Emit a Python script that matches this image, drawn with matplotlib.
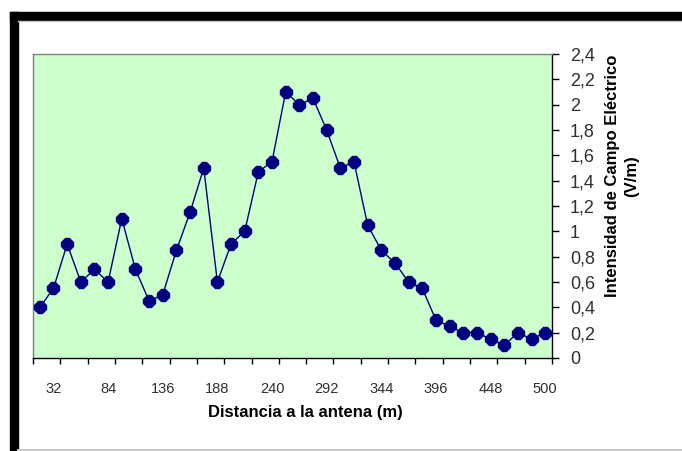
import numpy as np
import matplotlib.pyplot as plt
from matplotlib.patches import Rectangle
from matplotlib.lines import Line2D

# distances along the measurement route (m), one per point
distancia = [19, 32, 45, 58, 71, 84, 97, 110, 123, 136, 149, 162, 175,
             188, 201, 214, 227, 240, 253, 266, 279, 292, 305, 318, 331,
             344, 357, 370, 383, 396, 409, 422, 435, 448, 461, 474, 487, 500]

# electric field strength (V/m)
campo = [0.4, 0.55, 0.9, 0.6, 0.7, 0.6, 1.1, 0.7, 0.45, 0.5,
         0.85, 1.15, 1.5, 0.6, 0.9, 1.0, 1.47, 1.55, 2.1, 2.0,
         2.05, 1.8, 1.5, 1.55, 1.05, 0.85, 0.75, 0.6, 0.55, 0.3,
         0.25, 0.2, 0.2, 0.15, 0.1, 0.2, 0.15, 0.2]

y_ticks = [0, 0.2, 0.4, 0.6, 0.8, 1.0, 1.2, 1.4, 1.6, 1.8, 2.0, 2.2, 2.4]

plt.rcParams['font.family'] = ['Liberation Sans', 'DejaVu Sans']

W, H = 682, 451
fig = plt.figure(figsize=(W / 100, H / 100), dpi=100)
fig.patch.set_facecolor('white')

# black frame on top and left, thin grey lines
fig.patches.append(Rectangle((10 / W, 1 - 20 / H), 1 - 10 / W, 8 / H,
                             transform=fig.transFigure, color='black', zorder=0))
fig.patches.append(Rectangle((10 / W, 0), 8 / W, 1 - 12 / H,
                             transform=fig.transFigure, color='black', zorder=0))
fig.lines.append(Line2D([18 / W, 1], [1 - 21 / H, 1 - 21 / H], transform=fig.transFigure,
                        color='#c8c8c8', lw=1))
fig.lines.append(Line2D([18 / W, 1], [1 - 449.5 / H, 1 - 449.5 / H], transform=fig.transFigure,
                        color='#c8c8c8', lw=1.5))

ax = fig.add_axes([33 / W, 1 - 358 / H, (552 - 33) / W, (358 - 54) / H])
ax.set_facecolor('#ccffcc')

x = np.arange(len(campo))
ax.plot(x, campo, color='#000080', lw=1, marker='8', markersize=9,
        markerfacecolor='#000080', markeredgecolor='#000080', zorder=3)

ax.set_xlim(-0.5, len(campo) - 0.5)
ax.set_ylim(0, 2.4)

# x axis: tick marks between every second category, labels every fourth
ax.set_xticks(np.arange(-0.5, len(campo), 2), minor=True)
ax.set_xticks(x[1::4])
ax.set_xticklabels([str(d) for d in distancia[1::4]], fontsize=10.5, color='#303030')
ax.tick_params(axis='x', which='major', length=0, pad=17)
ax.tick_params(axis='x', which='minor', length=4, width=1, color='black', direction='out')

ax.yaxis.tick_right()
ax.set_yticks(y_ticks)
ax.set_yticklabels([f"{v:g}".replace('.', ',') for v in y_ticks], fontsize=13, color='#303030')
ax.tick_params(axis='y', length=5, width=1, color='black', direction='out', pad=8)

for side in ['left', 'top']:
    ax.spines[side].set_color('#808080')
    ax.spines[side].set_linewidth(1)
for side in ['bottom', 'right']:
    ax.spines[side].set_color('black')
    ax.spines[side].set_linewidth(1)

fig.text(305 / W, 1 - 413 / H, 'Distancia a la antena (m)', ha='center', va='center',
         fontsize=12, fontweight='bold')
fig.text(622 / W, 1 - 176 / H, 'Intensidad de Campo Eléctrico\n(V/m)', ha='center', va='center',
         rotation=90, fontsize=12, fontweight='bold', multialignment='center', linespacing=1.4)

fig.savefig('out.png', dpi=100)
